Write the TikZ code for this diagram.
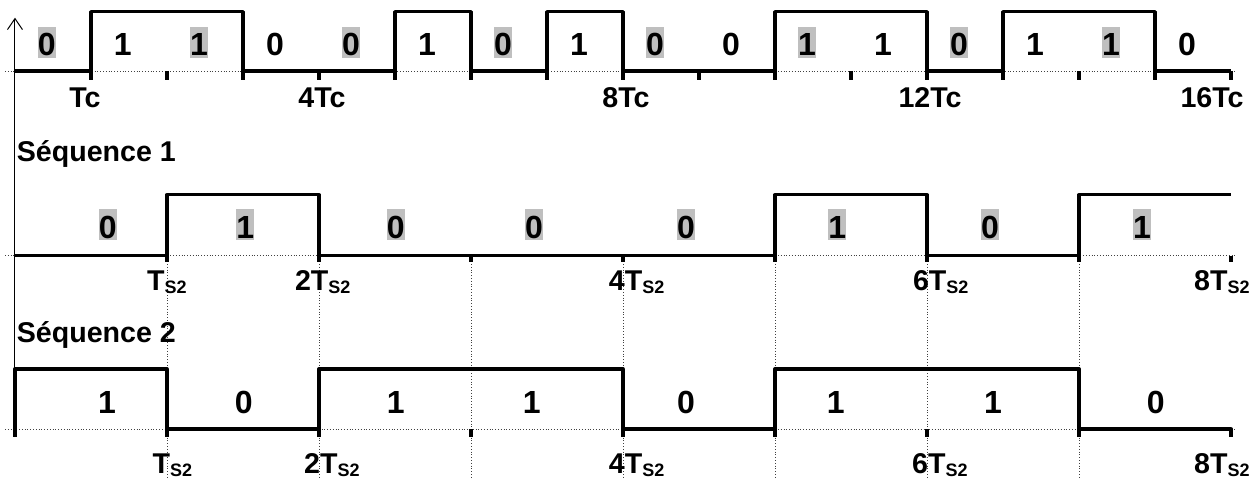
\documentclass[tikz,border=0pt]{standalone}
\usepackage{fontspec}
\setmainfont{Liberation Sans}
\usetikzlibrary{arrows.meta}

\newcommand{\bitfont}{\fontsize{16}{18}\selectfont\bfseries}
\newcommand{\lblfont}{\fontsize{14.3}{16}\selectfont\bfseries}
\newcommand{\Ts}{T\raisebox{-1.5pt}{\fontsize{9}{10}\selectfont S2}}

\tikzset{
    sig/.style={line width=1.65pt, line join=round},
    gridline/.style={densely dotted, line width=0.4pt, black!75},
    bit/.style={font=\bitfont, inner sep=0pt, text height=14.5pt, text depth=1pt, anchor=base},
    hlbit/.style={bit, fill=black!25},
    lbl/.style={font=\lblfont, inner sep=0pt, anchor=base}
}

\begin{document}
\begin{tikzpicture}[x=38pt,y=38pt]
        \useasboundingbox (-0.197,0) rectangle (16.368,6.303);

        % axe vertical
        \draw[line width=0.5pt, -{Straight Barb[length=5.5pt,width=7.5pt]}] (0,0.55) -- (0,6.07);

        % pointilles verticaux
        \foreach \i in {2,4,...,14}
            \draw[gridline] (\i,2.94) -- (\i,0);

        % signal binaire
        \begin{scope}[shift={(0,5.37)}]
            \draw[gridline] (-0.13,0) -- (16.05,0);
            \draw[sig] (0,0) -- (1,0) -- (1,0.78) -- (3,0.78) -- (3,0) -- (5,0)
                -- (5,0.78) -- (6,0.78) -- (6,0) -- (7,0) -- (7,0.78) -- (8,0.78)
                -- (8,0) -- (10,0) -- (10,0.78) -- (12,0.78) -- (12,0) -- (13,0)
                -- (13,0.78) -- (15,0.78) -- (15,0) -- (16,0);
            \foreach \i in {1,...,16}
                \draw[sig] (\i,0) -- (\i,-0.12);
            \foreach \b [count=\i from 0] in {0,1,1,0,0,1,0,1,0,0,1,1,0,1,1,0} {
                \ifodd\i\relax
                    \node[bit] (b\i) at (\i+0.42,0.2) {\b};
                \else
                    \node[hlbit] (b\i) at (\i+0.42,0.2) {\b};
                \fi
            }
            \foreach \x/\t [count=\k] in {0.92/Tc,4.04/4Tc,8.04/8Tc,12.04/12Tc,15.75/16Tc}
                \node[lbl] (tc\k) at (\x,-0.475) {\t};
        \end{scope}

        % sequence 1
        \node[lbl, anchor=base west] (seq1) at (0.02,4.18) {Séquence 1};
        \begin{scope}[shift={(0,2.94)}]
            \draw[gridline] (-0.13,0) -- (16.05,0);
            \draw[sig] (0,0) -- (2,0) -- (2,0.8) -- (4,0.8) -- (4,0) -- (10,0)
                -- (10,0.8) -- (12,0.8) -- (12,0) -- (14,0) -- (14,0.8) -- (16,0.8);
            \foreach \i in {2,4,...,16}
                \draw[sig] (\i,0) -- (\i,-0.09);
            \foreach \x/\b [count=\j] in {1.22/0,3.03/1,5.01/0,6.83/0,8.83/0,10.82/1,12.83/0,14.83/1}
                \node[hlbit] (s1-\j) at (\x,0.23) {\b};
            \foreach \x/\n [count=\k] in {2.0/,4.05/2,8.18/4,12.18/6,15.88/8}
                \node[lbl] (t1-\k) at (\x,-0.453) {\n\Ts};
        \end{scope}

        % sequence 2
        \node[lbl, anchor=base west] (seq2) at (0.02,1.80) {Séquence 2};
        \begin{scope}[shift={(0,0.658)}]
            \draw[gridline] (-0.13,0) -- (16.05,0);
            \draw[sig] (0,-0.1) -- (0,0.79) -- (2,0.79) -- (2,0) -- (4,0) -- (4,0.79)
                -- (8,0.79) -- (8,0) -- (10,0) -- (10,0.79) -- (14,0.79) -- (14,0)
                -- (16,0) -- (16,-0.1);
            \foreach \i in {2,4,...,14}
                \draw[sig] (\i,0) -- (\i,-0.1);
            \foreach \x/\b [count=\j] in {1.21/1,3.01/0,5.01/1,6.80/1,8.83/0,10.80/1,12.87/1,15.01/0}
                \node[bit] (s2-\j) at (\x,0.21) {\b};
            \foreach \x/\n [count=\k] in {2.07/,4.17/2,8.18/4,12.17/6,15.88/8}
                \node[lbl] (t2-\k) at (\x,-0.579) {\n\Ts};
        \end{scope}
    \end{tikzpicture}
\end{document}
